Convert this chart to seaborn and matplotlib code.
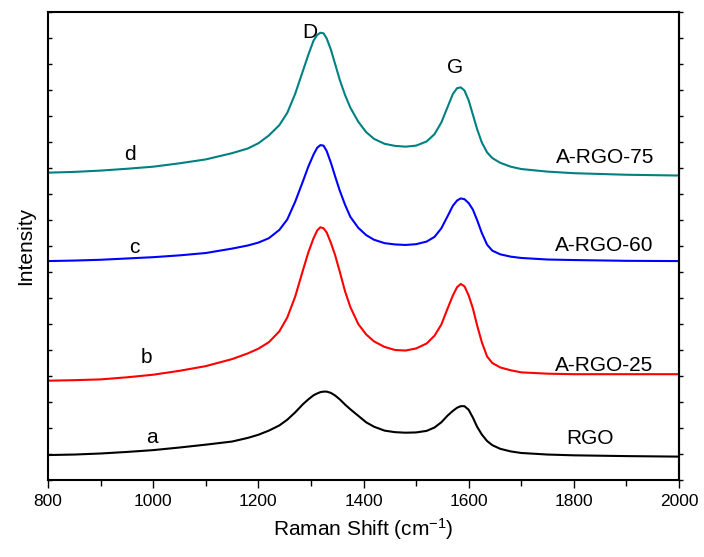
import pandas as pd
import numpy as np
import matplotlib
matplotlib.use('Agg')
import matplotlib.pyplot as plt
import seaborn as sns

# Raman shift grid (cm-1), shared by all four spectra
shift = [800, 850, 900, 950, 1000, 1050, 1100, 1150,
         1180, 1200, 1220, 1240, 1255, 1270, 1285, 1295,
         1305, 1312, 1318, 1324, 1330, 1338, 1346, 1355,
         1365, 1375, 1390, 1405, 1420, 1440, 1460, 1480,
         1500, 1520, 1535, 1548, 1560, 1570, 1578, 1585,
         1592, 1600, 1608, 1616, 1625, 1635, 1645, 1660,
         1680, 1700, 1750, 1800, 1900, 2000]

# intensities (already offset / stacked)
rgo = [0.96, 0.98, 1.02, 1.08, 1.15, 1.25, 1.36, 1.48,
       1.62, 1.74, 1.90, 2.10, 2.32, 2.60, 2.92, 3.10,
       3.26, 3.33, 3.38, 3.40, 3.40, 3.35, 3.25, 3.10,
       2.90, 2.72, 2.47, 2.22, 2.05, 1.90, 1.84, 1.82,
       1.83, 1.89, 2.02, 2.22, 2.48, 2.66, 2.78, 2.84,
       2.84, 2.70, 2.40, 2.05, 1.75, 1.50, 1.34, 1.20,
       1.10, 1.04, 0.98, 0.95, 0.92, 0.90]
argo25 = [3.82, 3.84, 3.87, 3.95, 4.05, 4.20, 4.38, 4.65,
          4.87, 5.05, 5.30, 5.72, 6.25, 7.05, 8.08, 8.75,
          9.30, 9.60, 9.72, 9.68, 9.52, 9.12, 8.65, 8.00,
          7.25, 6.65, 6.00, 5.60, 5.33, 5.12, 5.00, 4.98,
          5.06, 5.25, 5.55, 5.98, 6.60, 7.10, 7.42, 7.54,
          7.45, 7.10, 6.60, 5.95, 5.30, 4.75, 4.50, 4.33,
          4.22, 4.14, 4.09, 4.07, 4.07, 4.07]
argo60 = [8.42, 8.44, 8.47, 8.52, 8.57, 8.64, 8.73, 8.90,
          9.02, 9.13, 9.30, 9.62, 10.02, 10.70, 11.50, 12.05,
          12.52, 12.78, 12.88, 12.86, 12.65, 12.20, 11.68, 11.12,
          10.58, 10.12, 9.70, 9.42, 9.24, 9.11, 9.06, 9.04,
          9.07, 9.17, 9.35, 9.68, 10.15, 10.55, 10.75, 10.83,
          10.80, 10.65, 10.40, 10.00, 9.50, 9.05, 8.82, 8.68,
          8.59, 8.54, 8.48, 8.46, 8.43, 8.42]
argo75 = [11.82, 11.85, 11.90, 11.97, 12.05, 12.18, 12.33, 12.57,
          12.75, 12.95, 13.25, 13.65, 14.12, 14.85, 15.75, 16.35,
          16.90, 17.12, 17.20, 17.18, 16.98, 16.55, 16.00, 15.38,
          14.80, 14.32, 13.78, 13.38, 13.12, 12.93, 12.85, 12.82,
          12.86, 13.02, 13.30, 13.75, 14.35, 14.85, 15.07, 15.10,
          14.98, 14.60, 14.05, 13.50, 12.98, 12.60, 12.38, 12.20,
          12.05, 11.96, 11.86, 11.80, 11.74, 11.71]

samples = ['RGO', 'A-RGO-25', 'A-RGO-60', 'A-RGO-75']
letters = ['a', 'b', 'c', 'd']

df = pd.DataFrame({
    'shift': shift * 4,
    'intensity': rgo + argo25 + argo60 + argo75,
    'sample': np.repeat(samples, len(shift)),
})

sns.set_style("ticks")
plt.rcParams['font.family'] = ['Liberation Sans', 'DejaVu Sans']
plt.rcParams['mathtext.default'] = 'regular'
plt.rcParams['text.color'] = 'black'
plt.rcParams['axes.labelcolor'] = 'black'
plt.rcParams['xtick.color'] = 'black'
plt.rcParams['ytick.color'] = 'black'
plt.rcParams['axes.edgecolor'] = 'black'

fig = plt.figure(figsize=(7.04, 5.57), dpi=100)
ax = fig.add_axes([0.0682, 0.1382, 0.8963, 0.8403])

my_pal = {'RGO': 'black', 'A-RGO-25': '#ff0000', 'A-RGO-60': '#0000ff', 'A-RGO-75': '#008080'}
sns.lineplot(data=df, x='shift', y='intensity', hue='sample', palette=my_pal,
             estimator=None, legend=False, linewidth=1.5, ax=ax)

ax.set_xlim(800, 2000)
ax.set_ylim(0, 18)
ax.set_xticks(range(800, 2001, 200))
ax.set_xticks(range(900, 2000, 200), minor=True)
ax.set_yticks(range(0, 19))
ax.set_yticklabels([])
ax.tick_params(axis='x', which='major', direction='out', length=6, width=1, labelsize=12.5, pad=4)
ax.tick_params(axis='x', which='minor', direction='out', length=4, width=1)
ax.tick_params(axis='y', direction='in', length=3, width=1, left=True)
for s in ax.spines.values():
    s.set_linewidth(1.5)
    s.set_color('black')
    s.set_visible(True)

right = ax.secondary_yaxis('right')
right.set_yticks(range(0, 19))
right.set_yticklabels([])
right.tick_params(direction='out', length=3, width=1, color='black')
right.spines['right'].set_linewidth(1.5)
right.spines['right'].set_color('black')

ax.set_xlabel('Raman Shift (cm$^{-1}$)', fontsize=15, labelpad=5)
ax.set_ylabel('Intensity', fontsize=15, labelpad=6)

# peak labels
ax.text(1298, 17.2, 'D', fontsize=15, ha='center', va='center')
ax.text(1574, 15.85, 'G', fontsize=15, ha='center', va='center')

# curve letters and sample names
letter_pos = [(998, 1.65), (988, 4.73), (965, 8.96), (956, 12.5)]
name_pos = [(1831, 1.6), (1857, 4.42), (1857, 9.0), (1859, 12.42)]
for lt, (lx, ly) in zip(letters, letter_pos):
    ax.text(lx, ly, lt, fontsize=15, ha='center', va='center')
for nm, (nx, ny) in zip(samples, name_pos):
    ax.text(nx, ny, nm, fontsize=15, ha='center', va='center')

plt.savefig('out.png', dpi=100)
